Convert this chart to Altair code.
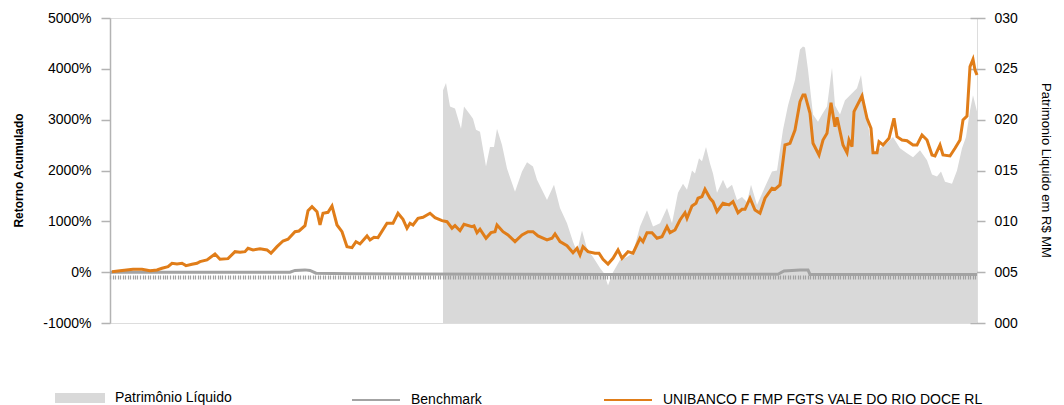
import altair as alt
import pandas as pd

# ---- data ----
# fund cumulative return (%), period index along the time axis
periodo_fundo = [2, 10, 23, 32, 40, 47, 52, 58, 62, 67, 72, 76, 82, 87, 90, 97, 105, 110, 118, 125,
                 130, 135, 138, 143, 150, 157, 161, 167, 173, 178, 185, 189, 195, 198, 202, 207, 210, 213, 218, 222,
                 227, 232, 237, 242, 246, 250, 257, 260, 264, 268, 277, 283, 288, 293, 297, 300, 303, 308, 313, 320,
                 325, 332, 337, 342, 345, 350, 354, 362, 364, 367, 370, 376, 381, 385, 387, 393, 398, 405, 412, 418,
                 423, 428, 437, 442, 445, 450, 457, 463, 467, 470, 473, 478, 485, 489, 493, 498, 503, 508, 512, 518,
                 523, 530, 533, 537, 542, 547, 552, 557, 560, 565, 570, 575, 577, 582, 586, 588, 592, 595, 600, 603,
                 607, 613, 619, 623, 628, 632, 635, 640, 645, 650, 655, 662, 665, 670, 675, 680, 685, 690, 693, 695,
                 700, 703, 709, 713, 717, 721, 725, 727, 733, 737, 739, 742, 744, 752, 757, 761, 763, 767, 769, 773,
                 779, 784, 787, 792, 797, 803, 807, 812, 817, 822, 825, 830, 833, 840, 845, 850, 853, 857, 860, 863,
                 865, 867]
retorno_fundo = [10, 30, 57, 57, 30, 43, 77, 108, 175, 161, 175, 128, 155, 175, 207, 240, 358, 254, 266, 403,
                 391, 403, 470, 437, 462, 437, 372, 502, 614, 647, 797, 810, 915, 1210, 1289, 1190, 928, 1159, 1178, 1302,
                 928, 797, 502, 482, 600, 555, 712, 633, 686, 679, 962, 962, 1159, 1040, 864, 962, 928, 1060, 1080, 1159,
                 1072, 1013, 993, 864, 915, 816, 942, 895, 909, 777, 844, 667, 777, 797, 928, 797, 732, 600, 732, 797,
                 797, 712, 633, 667, 751, 600, 521, 384, 470, 338, 502, 403, 372, 372, 254, 161, 273, 437, 273, 403,
                 372, 667, 600, 777, 777, 667, 698, 895, 777, 830, 1027, 1170, 1060, 1302, 1355, 1454, 1485, 1631, 1454, 1387,
                 1190, 1355, 1322, 1387, 1170, 1237, 1237, 1454, 1223, 1159, 1454, 1650, 1631, 1715, 2502, 2535, 2797, 3354, 3486, 3486,
                 3126, 2535, 2305, 2600, 2732, 3334, 2862, 3047, 2502, 2351, 2600, 2469, 3157, 3466, 3027, 2830, 2351, 2351, 2567, 2502,
                 2634, 3027, 2665, 2600, 2587, 2502, 2502, 2699, 2600, 2305, 2286, 2502, 2305, 2286, 2437, 2600, 2994, 3072, 4042, 4188,
                 3977, 3879]

# benchmark cumulative return (%)
periodo_bench = [0, 180, 185, 195, 200, 206, 240, 300, 500, 668, 674, 690, 698, 700, 867]
retorno_bench = [0, 0, 35, 45, 35, -20, -30, -35, -45, -40, 25, 45, 45, -45, -45]

# net assets (R$ MM)
periodo_pl = [333, 336, 340, 345, 351, 354, 360, 363, 366, 370, 376, 380, 384, 387, 392, 397, 405, 412, 417, 423,
              427, 437, 444, 450, 457, 463, 467, 472, 477, 483, 490, 494, 498, 503, 510, 517, 523, 530, 537, 543,
              550, 557, 562, 568, 573, 577, 582, 585, 589, 592, 596, 600, 603, 607, 613, 617, 622, 627, 632, 637,
              641, 647, 655, 662, 667, 673, 678, 685, 690, 693, 695, 698, 703, 708, 712, 717, 722, 725, 730, 735,
              742, 747, 751, 755, 760, 764, 770, 777, 783, 790, 797, 803, 810, 817, 822, 827, 831, 835, 842, 847,
              852, 856, 860, 863, 867]
patrimonio_pl = [22.9, 23.6, 21.3, 21.1, 19.1, 21.3, 20.5, 20.1, 19.0, 18.8, 15.4, 17.3, 17.3, 19.1, 17.5, 15.2, 12.9, 14.9, 15.8, 15.4,
                 14.1, 12.1, 13.6, 11.3, 9.8, 8.0, 7.0, 9.1, 7.3, 6.5, 5.4, 4.9, 3.7, 5.0, 6.2, 6.5, 6.9, 9.5, 11.1, 9.5,
                 9.8, 11.3, 9.8, 12.8, 13.7, 13.1, 15.0, 14.7, 16.2, 15.9, 17.3, 15.7, 14.7, 12.8, 14.1, 13.2, 13.6, 12.1, 12.4, 11.9,
                 13.6, 11.6, 13.4, 14.9, 15.0, 19.0, 21.4, 23.9, 26.9, 27.2, 27.1, 24.9, 20.5, 19.8, 20.5, 21.3, 25.1, 21.4, 20.5, 21.9,
                 22.6, 23.1, 24.4, 21.4, 18.3, 16.7, 17.2, 17.7, 18.3, 17.2, 16.7, 16.3, 17.0, 16.0, 14.6, 14.4, 14.9, 13.9, 13.7, 15.0,
                 17.2, 18.3, 20.9, 22.4, 20.8]

serie_pl = "Patrimônio Líquido"
serie_bench = "Benchmark"
serie_fundo = "UNIBANCO F FMP FGTS VALE DO RIO DOCE RL"

ticks_esquerda = [-1000, 0, 1000, 2000, 3000, 4000, 5000]
ticks_direita = [0, 5, 10, 15, 20, 25, 30]
periodos_eixo = [i * 2.5 for i in range(348)]

FONT = "Liberation Sans"
ORANGE = "#E07D19"
BENCH = "#a3a3a3"
AREA = "#d9d9d9"

df_pl = pd.DataFrame({"periodo": periodo_pl, "pl": patrimonio_pl, "serie": serie_pl})
df_lines = pd.concat([
    pd.DataFrame({"periodo": periodo_bench, "ret": retorno_bench, "serie": serie_bench, "ordem": 0}),
    pd.DataFrame({"periodo": periodo_fundo, "ret": retorno_fundo, "serie": serie_fundo, "ordem": 1}),
])

x_axis = alt.Axis(values=periodos_eixo, labels=False, domain=False, grid=False, ticks=True,
                  tickColor="#a0a0a0", tickWidth=1.2, tickSize=4, offset=-48, zindex=1, title=None)
x_scale = alt.Scale(domain=[0, 867], nice=False, zero=False)

area = alt.Chart(df_pl).mark_area(interpolate="linear", opacity=1).encode(
    x=alt.X("periodo:Q", scale=x_scale, axis=x_axis),
    y=alt.Y("pl:Q", scale=alt.Scale(domain=[0, 30], nice=False),
            axis=alt.Axis(orient="right", values=ticks_direita, format="03d", grid=False,
                          domain=False, tickColor="#b3b3b3", tickWidth=1.5, tickSize=15, offset=-7,
                          labelPadding=9, labelFont=FONT, labelFontSize=14, labelColor="#000",
                          title="Patrimonio Liquido em R$ MM", titleFont=FONT, titleFontSize=13,
                          titleFontWeight="normal", titleColor="#000", titleAngle=90,
                          titleBaseline="middle", titleAlign="center", titleX=75, titleY=152)),
    fill=alt.Fill("serie:N", scale=alt.Scale(domain=[serie_pl], range=[AREA]),
                  legend=alt.Legend(orient="none", legendX=-55, legendY=355, title=None,
                                    symbolType="M-1,-0.2H1V0.2H-1Z", symbolSize=2500,
                                    symbolStrokeWidth=0, symbolOpacity=1, labelFont=FONT,
                                    labelFontSize=14, labelColor="#000", labelOffset=10, padding=0,
                                    labelLimit=0)),
)

lines = alt.Chart(df_lines).mark_line(strokeWidth=3).encode(
    x=alt.X("periodo:Q", scale=x_scale, axis=x_axis),
    y=alt.Y("ret:Q", scale=alt.Scale(domain=[-1000, 5000], nice=False),
            axis=alt.Axis(orient="left", values=ticks_esquerda, labelExpr="datum.value + '%'",
                          grid=False, domainColor="#b3b3b3", domainWidth=1.5, tickColor="#b3b3b3",
                          tickWidth=1.5, tickSize=9, labelPadding=10, labelFont=FONT, labelFontSize=14,
                          labelColor="#000", title="Retorno Acumulado", titleFont=FONT, titleFontSize=12,
                          titleFontWeight="bold", titleColor="#000", titleAngle=-90,
                          titleBaseline="middle", titleAlign="center", titleX=-92, titleY=152)),
    stroke=alt.Stroke("serie:N", scale=alt.Scale(domain=[serie_bench, serie_fundo], range=[BENCH, ORANGE]),
                      legend=alt.Legend(orient="none", legendX=241, legendY=357, title=None,
                                        direction="horizontal", columns=2, columnPadding=118,
                                        symbolType="stroke", symbolSize=2304, symbolStrokeWidth=2,
                                        labelFont=FONT, labelFontSize=14, labelColor="#000",
                                        labelOffset=10, padding=0, labelLimit=0)),
    order=alt.Order("ordem:Q"),
    detail="serie:N",
)

chart = alt.layer(area, lines).resolve_scale(y="independent").properties(
    width=867, height=305,
    autosize=alt.AutoSizeParams(type="none"),
    padding={"left": 102, "top": 10, "right": 78, "bottom": 90},
).configure_view(stroke="#c8c8c8", strokeWidth=1.5).configure(background="white")

chart.save("out.html", embed_options={"renderer": "svg", "actions": False})
